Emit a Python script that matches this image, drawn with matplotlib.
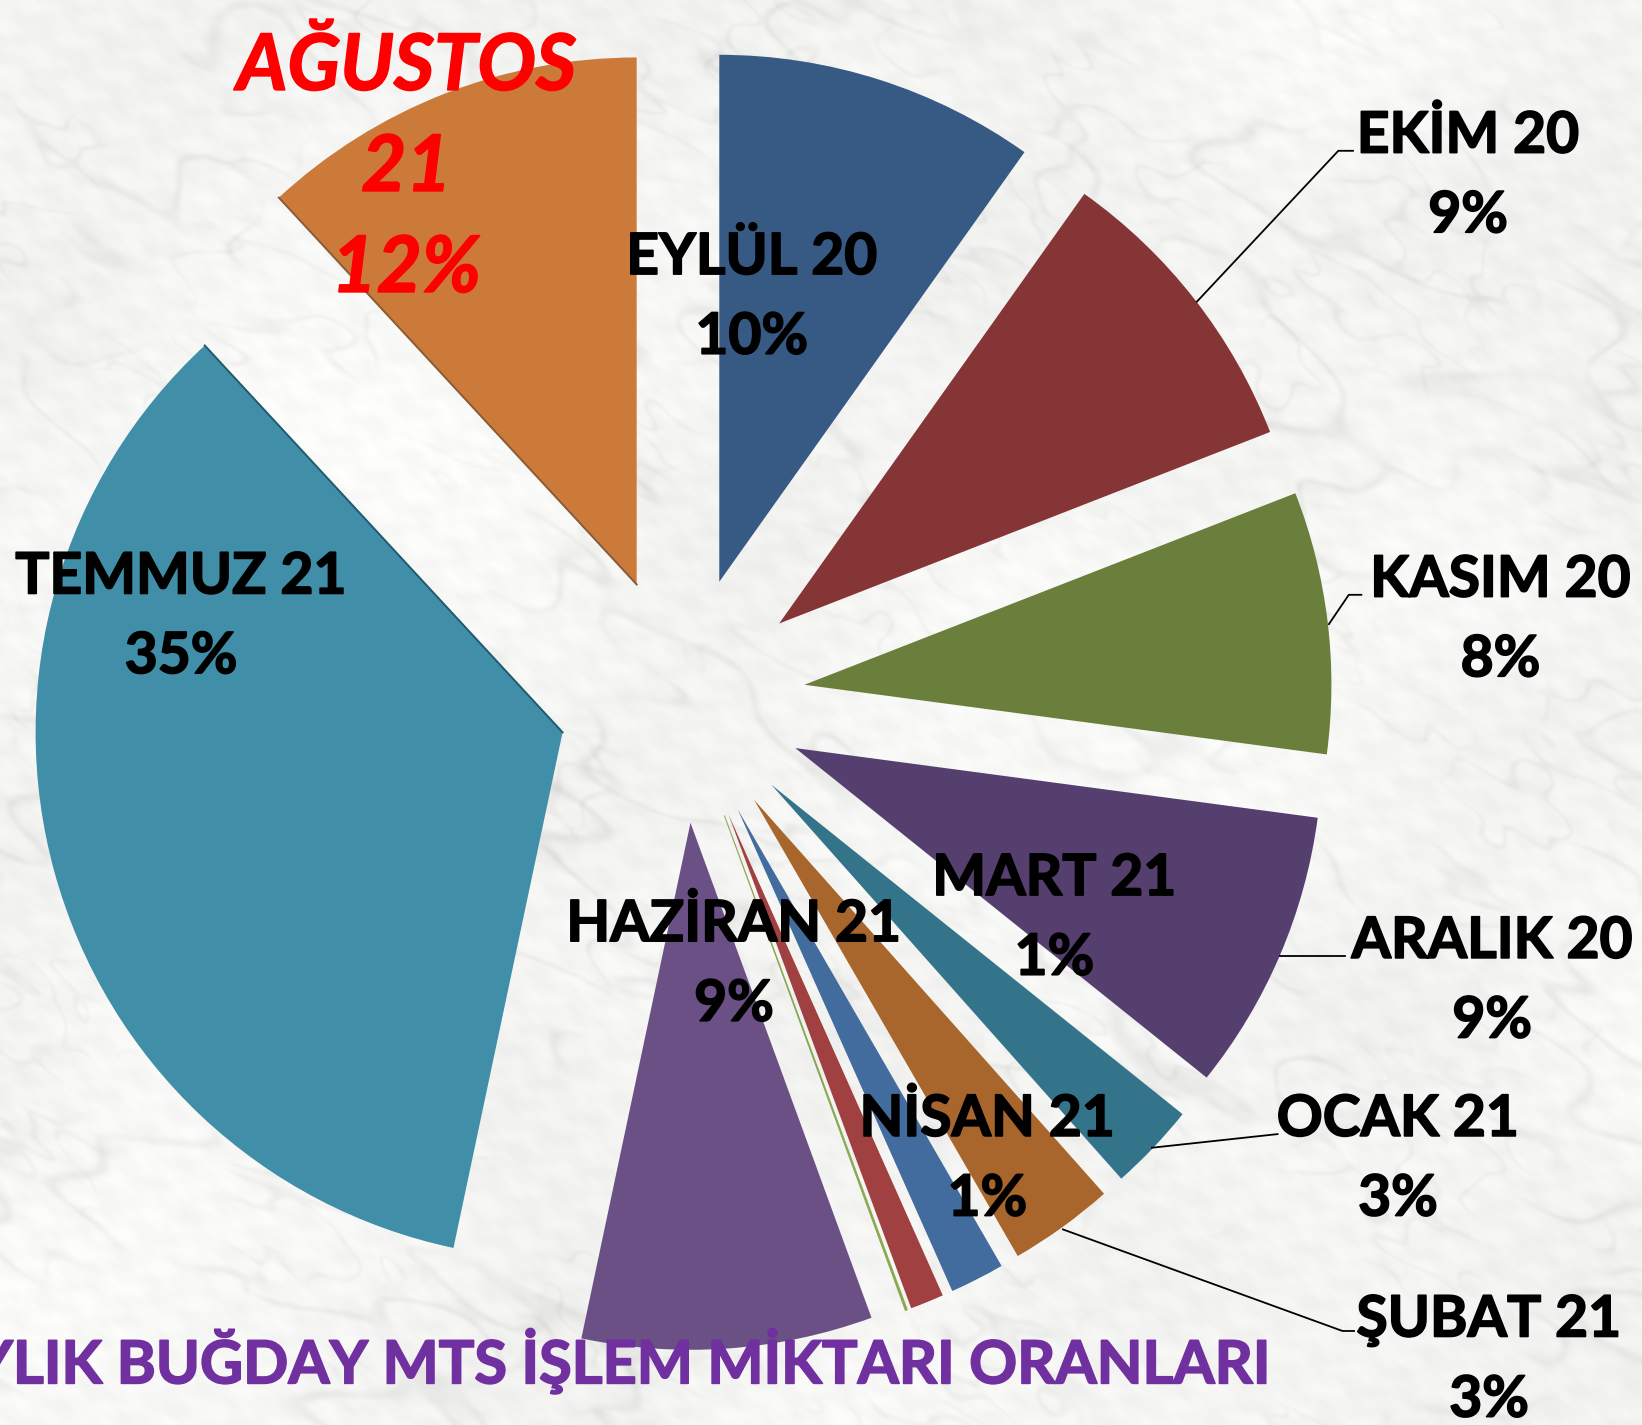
import numpy as np
import matplotlib
matplotlib.use("Agg")
import matplotlib.pyplot as plt
import matplotlib.patheffects as pe

months = ["EYLÜL 20", "EKİM 20", "KASIM 20", "ARALIK 20", "OCAK 21", "ŞUBAT 21",
          "MART 21", "NİSAN 21", "MAYIS 21", "HAZİRAN 21", "TEMMUZ 21", "AĞUSTOS 21"]
shares = [9.83, 9.25, 8.03, 8.64, 2.69, 3.22, 1.67, 1.03, 0.06, 8.9, 34.8, 11.88]
pct_labels = ["10%", "9%", "8%", "9%", "3%", "3%", "1%", "1%", "0%", "9%", "35%", "12%"]
colors = ["#375a84", "#853535", "#6b7f3c", "#553f6e", "#33748a", "#a8652c",
          "#426b9e", "#a04040", "#8aa850", "#6a5084", "#418ea8", "#cb7a3a"]
title = "AYLIK BUĞDAY MTS İŞLEM MİKTARI ORANLARI"

W, H = 1642, 1425
S = W / 1568


def px(x, y):
    # coordinates -> axes coordinates
    return x * S, H - y * S


def wave_noise(x, y, scale, phase):
    # pseudo noise out of a handful of sines at fixed angles
    angles = [0.31, 1.07, 1.93, 2.71, 0.62, 2.24, 1.49]
    mult = [1.0, 1.37, 0.83, 1.71, 2.19, 2.63, 3.07]
    out = 0
    for k, (a, m) in enumerate(zip(angles, mult)):
        u = x * np.cos(a) + y * np.sin(a)
        out = out + np.sin(u * m / scale + phase * (k + 1) * 1.7) / m ** 0.7
    return out / 3.0


def marble():
    y, x = np.mgrid[0:H:2, 0:W:2].astype(float)
    # squash across the diagonal so the smudges run the same way as in the stone
    u = x * 0.86 + y * 0.5
    v = -x * 0.5 + y * 0.86
    xs, ys = u, v * 1.9
    warp = wave_noise(xs, ys, 70, 0.4) * 40
    ridge1 = np.exp(-(wave_noise(xs + warp, ys - warp, 60, 1.1) / 0.08) ** 2)
    ridge2 = np.exp(-(wave_noise(xs - warp, ys + warp, 26, 2.3) / 0.10) ** 2)
    gate1 = np.clip(wave_noise(x, y, 90, 3.1) * 2.2 + 0.3, 0, 1)
    gate2 = np.clip(wave_noise(x, y, 55, 4.7) * 2.2 + 0.1, 0, 1)
    fine = wave_noise(xs, ys, 9, 5.3)
    cloud = wave_noise(x, y, 130, 6.1)
    shade = (246 - 12 * ridge1 * gate1 - 10 * ridge2 * gate2
             - 4 * np.clip(fine, -1, 1) + 5 * cloud)
    img = np.clip(np.dstack([shade, shade, shade - 2]), 0, 255).astype(np.uint8)
    return img


plt.rcParams["font.family"] = ["Lato", "DejaVu Sans"]
plt.rcParams["font.weight"] = "bold"

fig = plt.figure(figsize=(W / 100, H / 100), dpi=100)
ax = fig.add_axes([0, 0, 1, 1])
ax.imshow(marble(), extent=(0, W, 0, H), aspect="auto", zorder=0, interpolation="bicubic")

cx, cy = px(651, 668)
R = 527
wedges, _ = ax.pie(shares, explode=[118 * S] * len(shares), colors=colors, startangle=90,
                   counterclock=False, radius=R, center=(cx, cy), frame=True,
                   wedgeprops={"linewidth": 0})
for w in wedges:
    w.set_zorder(2)
# the Mayis sliver is almost nothing, give it a visible hairline
wedges[8].set_edgecolor("#8aa850")
wedges[8].set_linewidth(0.7)

# dark bevel along the cut between Temmuz and Agustos
for w, ang, col in [(wedges[10], wedges[10].theta1, "#1f5a6e"),
                    (wedges[11], wedges[11].theta2, "#8a5a35")]:
    x0, y0 = w.center
    t = np.deg2rad(ang)
    ax.plot([x0, x0 + R * np.cos(t)], [y0, y0 + R * np.sin(t)], color=col, lw=1.4, zorder=2.5)

leaders = [
    [(1143, 288), (1278, 144), (1292, 144)],
    [(1269, 596), (1288, 568), (1300, 568)],
    [(1222, 913), (1284, 913)],
    [(1100, 1096), (1220, 1083)],
    [(1015, 1174), (1282, 1271), (1293, 1271)],
]
for pts in leaders:
    xy = np.array([px(*p) for p in pts])
    ax.plot(xy[:, 0], xy[:, 1], color="black", lw=1.3, zorder=3)

label_pos = {
    0: (718, 284), 1: (1402, 168), 2: (1433, 592), 3: (1425, 937), 4: (1335, 1107),
    5: (1422, 1299), 6: (1007, 877), 7: (943, 1107), 9: (701, 921), 10: (173, 589),
}
for i, pos in label_pos.items():
    x, y = px(*pos)
    ax.text(x, y, months[i] + "\n" + pct_labels[i], ha="center", va="center",
            fontsize=41, fontweight="bold", color="black", linespacing=1.62, zorder=5,
            path_effects=[pe.withStroke(linewidth=1.2, foreground="black")])

x, y = px(388, 161)
name, yr = months[11].split()
ax.text(x, y, name + "\n" + yr + "\n" + pct_labels[11], ha="center", va="center",
        fontsize=56, fontweight="bold", style="italic", color="#ff0000",
        linespacing=1.5, zorder=5,
        path_effects=[pe.withStroke(linewidth=1.2, foreground="#ff0000")])

x, y = px(1214, 1300)
ax.text(x, y, title, ha="right", va="center", fontsize=42.8, fontweight="bold",
        color="#7030a0", zorder=5,
        path_effects=[pe.withStroke(linewidth=1.2, foreground="#7030a0")])

ax.set_xlim(0, W)
ax.set_ylim(0, H)
ax.axis("off")
fig.savefig("out.png", dpi=100)
